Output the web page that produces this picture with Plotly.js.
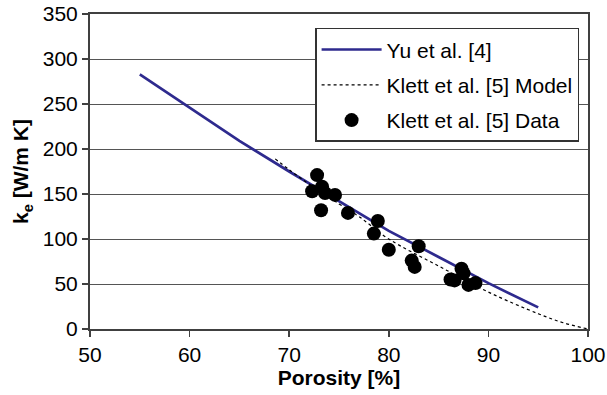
<!DOCTYPE html>
<html>
<head>
<meta charset="utf-8">
<script src="https://cdn.plot.ly/plotly-3.0.1.min.js"></script>
<style>html,body{margin:0;padding:0;background:#fff;}#chart{width:607px;height:395px;}</style>
</head>
<body>
<div id="chart"></div>
<script>
// Yu et al. [4] model curve
const yuPorosity = [55, 60, 65, 70, 75, 80, 85, 90, 95];
const yuKe = [283, 246, 209, 175, 142, 109, 80, 51, 24];

// Klett et al. [5] model curve
const klettModelPorosity = [68.6, 70, 72, 75, 77, 80, 85, 90, 95, 97.5, 100];
const klettModelKe = [189, 177, 161, 139, 125, 100, 70, 41, 17, 7, 0];

// Klett et al. [5] data
const klettDataPorosity = [72.8, 72.3, 73.3, 73.6, 74.6, 73.2, 75.9, 78.9, 78.5, 80.0, 83.0, 82.3, 82.6, 87.3, 87.5, 86.2, 86.6, 88.0, 88.7];
const klettDataKe = [171, 153, 158, 151, 149, 132, 129, 120, 106, 88, 92, 76, 69, 67, 62, 55, 54, 49, 51];

const xTicks = [50, 60, 70, 80, 90, 100];
const yTicks = [0, 50, 100, 150, 200, 250, 300, 350];

const font = 'Liberation Sans, Arial, sans-serif';

const traces = [
  {x: yuPorosity, y: yuKe, mode: 'lines', name: 'Yu et al. [4]',
   line: {color: '#2e2a8e', width: 2.7}, legendgroup: 'a'},
  {x: klettModelPorosity, y: klettModelKe, mode: 'lines', name: 'Klett et al. [5] Model',
   line: {color: '#000', width: 1.2, dash: '3px,3px', shape: 'spline'}, legendgroup: 'b'},
  {x: klettDataPorosity, y: klettDataKe, mode: 'markers', name: 'Klett et al. [5] Data',
   marker: {color: '#000', size: 14}, legendgroup: 'c'}
];

const layout = {
  width: 607, height: 395,
  margin: {l: 90, r: 19, t: 14, b: 66},
  paper_bgcolor: '#fff', plot_bgcolor: '#fff',
  font: {family: font, size: 21, color: '#000'},
  showlegend: true,
  legend: {x: 0.452, y: 0.956, xanchor: 'left', yanchor: 'top',
    bgcolor: '#fff', bordercolor: '#333', borderwidth: 1.5,
    font: {family: font, size: 21, color: '#000'},
    itemwidth: 60,
    traceorder: 'grouped', tracegroupgap: 5},
  xaxis: {range: [50, 100], tickvals: xTicks, ticktext: xTicks.map(String),
    showgrid: false, zeroline: false, showline: true, linecolor: '#404040', linewidth: 2,
    mirror: true, ticks: 'outside', ticklen: 6, tickcolor: '#404040', tickwidth: 1.5,
    tickfont: {family: font, size: 21},
    title: {text: '<b>Porosity [%]</b>', font: {family: font, size: 21}, standoff: 5}},
  yaxis: {range: [0, 350], tickvals: yTicks, ticktext: yTicks.map(String),
    showgrid: true, gridcolor: '#555', gridwidth: 1, zeroline: false,
    showline: true, linecolor: '#404040', linewidth: 2, mirror: true,
    ticks: 'outside', ticklen: 6, tickcolor: '#404040', tickwidth: 1.5,
    tickfont: {family: font, size: 21},
    title: {text: '<b>k<sub>e</sub> [W/m K]</b>', font: {family: font, size: 21}, standoff: 8}}
};

Plotly.newPlot('chart', traces, layout, {displayModeBar: false, staticPlot: true});
</script>
</body>
</html>
